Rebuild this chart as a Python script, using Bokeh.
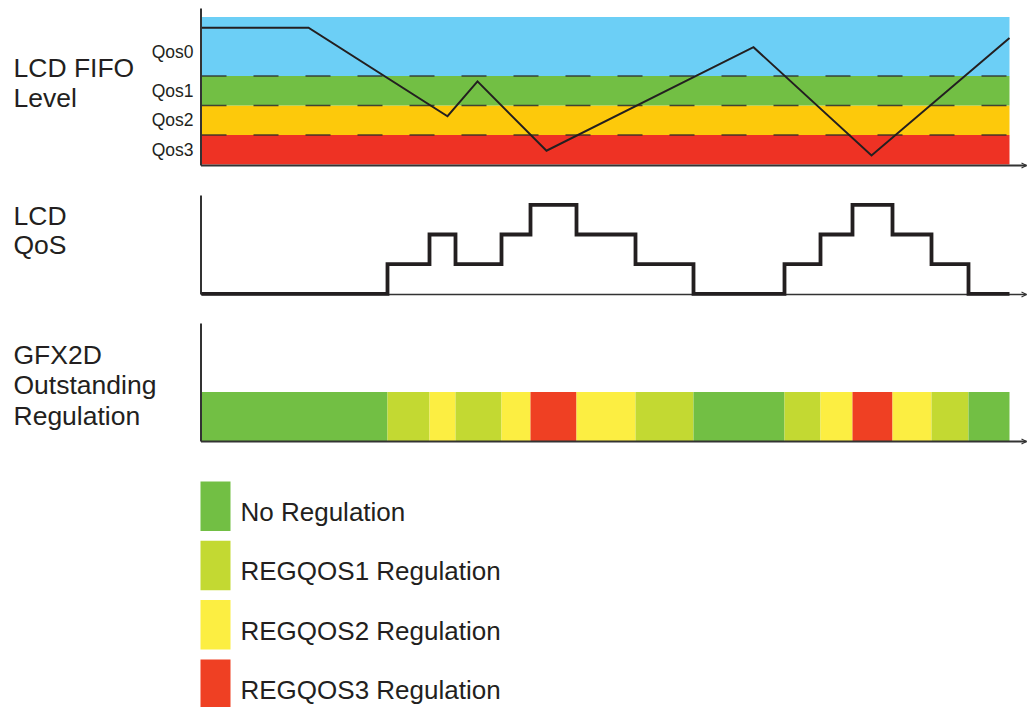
from bokeh.plotting import figure
from bokeh.layouts import column
from bokeh.models import Range1d, Arrow, OpenHead, ColumnDataSource
from bokeh.core.properties import value
from bokeh.embed import file_html
from bokeh.resources import INLINE

# ---------------- data ----------------
# Panel 1: LCD FIFO level with QoS threshold bands
qos_names = ["Qos3", "Qos2", "Qos1", "Qos0"]
qos_band_bottom = [0, 1, 2, 3]
qos_band_top = [1, 2, 3, 5]
qos_band_colors = ["#ee3224", "#fdc90b", "#72bf44", "#6ccff6"]
qos_label_pos = [0.5, 1.5, 2.5, 3.82]
threshold_levels = [1, 2, 3]
time_end = 808
fifo_t = [0, 107, 246, 276, 345, 552, 670, 808]
fifo_level = [4.64, 4.64, 1.64, 2.82, 0.47, 3.98, 0.31, 4.29]

# Panel 2/3: LCD QoS level over time and resulting GFX2D regulation
seg_edges = [0, 186, 228, 254, 300, 329, 375, 434, 492, 583, 619, 651, 691, 730, 767, 808]
qos_levels = [0, 1, 2, 1, 2, 3, 2, 1, 0, 1, 2, 3, 2, 1, 0]

reg_names = ["No Regulation", "REGQOS1 Regulation", "REGQOS2 Regulation", "REGQOS3 Regulation"]
reg_colors = ["#72bf44", "#c3d932", "#fcee42", "#ef4023"]

# panel titles (one entry per line) and their vertical centres in panel units
p1_title = ["LCD FIFO", "Level"]
p1_title_y = [3.29, 2.25]
p2_title = ["LCD", "QoS"]
p2_title_y = [2.61, 1.65]
p3_title = ["GFX2D", "Outstanding", "Regulation"]
p3_title_y = [1.75, 1.15, 0.50]

# ---------------- style ----------------
FONT = "Liberation Sans"
INK = "#231f20"
AXIS = "#333333"
W = 1027
XR = (-201, 826)
AX_X = -0.5


def base_fig(height, y0, y1):
    p = figure(width=W, height=height, x_range=Range1d(*XR), y_range=Range1d(y0, y1),
               output_backend="svg", toolbar_location=None,
               min_border_left=0, min_border_right=0,
               min_border_top=0, min_border_bottom=0)
    p.outline_line_color = None
    p.axis.visible = False
    p.xgrid.visible = False
    p.ygrid.visible = False
    p.background_fill_color = "white"
    p.border_fill_color = "white"
    return p


def axes(p, y_axis, y_top, xw=2.0):
    # vertical axis line and horizontal time axis with a small arrow head
    p.segment(x0=[AX_X], y0=[y_axis], x1=[AX_X], y1=[y_top], line_color=AXIS, line_width=2)
    p.segment(x0=[AX_X], y0=[y_axis], x1=[XR[1] - 1], y1=[y_axis], line_color=AXIS,
              line_width=xw)
    p.add_layout(Arrow(end=OpenHead(size=5, line_width=1.2, line_color=AXIS),
                       x_start=XR[1] - 10, y_start=y_axis, x_end=XR[1] - 1, y_end=y_axis,
                       line_color=AXIS, line_width=1.2))


def titles(p, lines, ys):
    p.text(x=-188, y=ys, text=lines, text_font=value(FONT), text_font_size="26.5px",
           text_color=INK, text_baseline="middle", text_align="left")


# ---------------- panel 1 ----------------
p1 = base_fig(188, -0.810, 5.563)
p1.quad(left=0, right=time_end, bottom=qos_band_bottom, top=qos_band_top,
        fill_color=qos_band_colors, line_color=None)
for lv in threshold_levels:
    p1.line([0, time_end], [lv, lv], line_color="#2a2a2a", line_alpha=0.85,
            line_width=1.5, line_dash="25 27")
p1.line(fifo_t, fifo_level, line_color=INK, line_width=2, line_join="miter")
axes(p1, -0.03, 5.29)
p1.text(x=-8, y=qos_label_pos, text=qos_names, text_font=value(FONT),
        text_font_size="17.5px", text_color=INK, text_align="right", text_baseline="middle")
titles(p1, p1_title, p1_title_y)

# ---------------- panel 2 ----------------
p2 = base_fig(127, -0.727, 3.549)
axes(p2, -0.02, 3.313, xw=1.5)
p2.step(seg_edges, qos_levels + [qos_levels[-1]], mode="after",
        line_color=INK, line_width=3.8, line_join="miter")
titles(p2, p2_title, p2_title_y)

# ---------------- panel 3 ----------------
p3 = base_fig(150, -0.5, 2.561)
src = ColumnDataSource(dict(left=seg_edges[:-1], right=seg_edges[1:],
                            color=[reg_colors[l] for l in qos_levels]))
p3.quad(left="left", right="right", bottom=0, top=1, fill_color="color",
        line_color=None, source=src)
axes(p3, -0.01, 2.398)
titles(p3, p3_title, p3_title_y)

# ---------------- legend panel ----------------
p4 = base_fig(242, 0, 1)
p4.y_range = Range1d(707, 465)
idx = list(range(len(reg_names)))
tops = [481 + 59.3 * i for i in idx]
p4.quad(left=-1, right=29, top=tops, bottom=[t + 49.5 for t in tops],
        fill_color=reg_colors, line_color=None)
p4.text(x=39, y=[t + 30.5 for t in tops], text=reg_names, text_font=value(FONT),
        text_font_size="26px", text_color=INK, text_baseline="middle")

layout = column(p1, p2, p3, p4, spacing=0)
open("out.html", "w").write(file_html(layout, INLINE))
